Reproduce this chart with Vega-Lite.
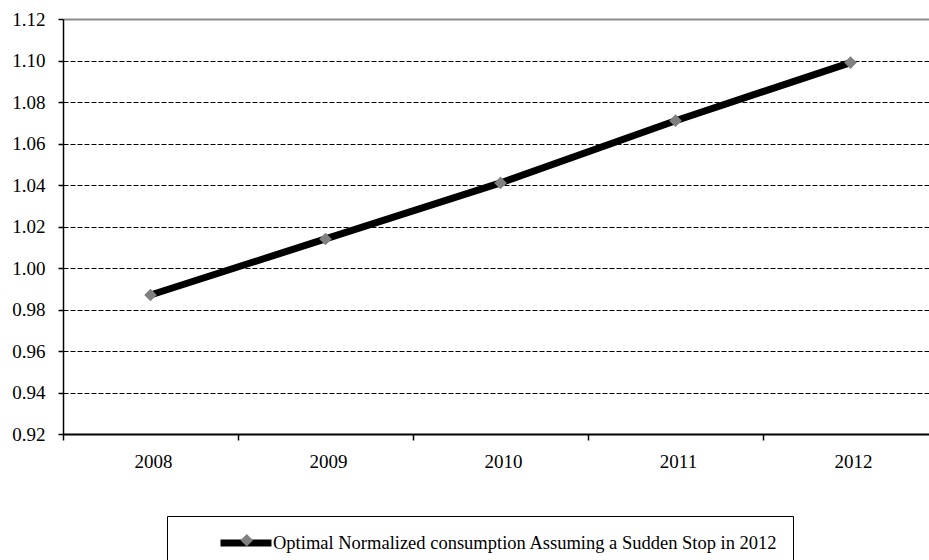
{
  "$schema": "https://vega.github.io/schema/vega-lite/v6.json",
  "width": 866,
  "height": 415,
  "autosize": {"type": "none"},
  "padding": {"left": 63, "top": 19, "right": 0, "bottom": 126},
  "background": "white",
  "config": {"view": {"stroke": null}, "font": "Liberation Serif"},
  "data": {
    "values": [
      {"year": "2008", "value": 0.987, "series": "Optimal Normalized consumption Assuming a Sudden Stop in 2012", "marker": "marker"},
      {"year": "2009", "value": 1.014, "series": "Optimal Normalized consumption Assuming a Sudden Stop in 2012", "marker": "marker"},
      {"year": "2010", "value": 1.041, "series": "Optimal Normalized consumption Assuming a Sudden Stop in 2012", "marker": "marker"},
      {"year": "2011", "value": 1.071, "series": "Optimal Normalized consumption Assuming a Sudden Stop in 2012", "marker": "marker"},
      {"year": "2012", "value": 1.099, "series": "Optimal Normalized consumption Assuming a Sudden Stop in 2012", "marker": "marker"}
    ]
  },
  "encoding": {
    "x": {
      "field": "year",
      "type": "ordinal",
      "scale": {"type": "band", "paddingInner": 0, "paddingOuter": 0, "range": [0, 875]},
      "axis": {
        "title": null,
        "bandPosition": 0,
        "labelOffset": 3,
        "labelAngle": 0,
        "labelAlign": "center",
        "tickSize": 6,
        "tickColor": "black",
        "tickWidth": 1.5,
        "domainColor": "black",
        "domainWidth": 2,
        "labelFontSize": 19,
        "labelFont": "Liberation Serif",
        "labelColor": "black",
        "labelPadding": 12,
        "grid": false,
        "zindex": 2
      }
    },
    "y": {
      "field": "value",
      "type": "quantitative",
      "scale": {"domain": [0.92, 1.12], "zero": false, "nice": false},
      "axis": {
        "title": null,
        "values": [0.92, 0.94, 0.96, 0.98, 1.0, 1.02, 1.04, 1.06, 1.08, 1.1, 1.12],
        "format": ".2f",
        "grid": true,
        "gridColor": {"condition": {"test": "datum.value > 1.119", "value": "#8c8c8c"}, "value": "black"},
        "gridDash": {"condition": {"test": "datum.value > 1.119", "value": []}, "value": [5, 2]},
        "gridWidth": {"condition": {"test": "datum.value > 1.119", "value": 2}, "value": 1.2},
        "gridOpacity": {"condition": {"test": "datum.value < 0.921", "value": 0}, "value": 1},
        "domainColor": "black",
        "domainWidth": 1.5,
        "tickColor": "black",
        "tickSize": 5,
        "tickWidth": 1.5,
        "labelFontSize": 19,
        "labelFont": "Liberation Serif",
        "labelColor": "black",
        "labelPadding": 13
      }
    }
  },
  "layer": [
    {
      "mark": {"type": "line", "strokeWidth": 7, "strokeCap": "round"},
      "encoding": {
        "stroke": {
          "field": "series",
          "type": "nominal",
          "scale": {"range": ["black"]},
          "legend": {
            "orient": "none",
            "legendX": 104,
            "legendY": 497,
            "title": null,
            "strokeColor": "black",
            "padding": 15,
            "symbolType": "M-3,0H3",
            "symbolSize": 289,
            "symbolStrokeWidth": 7,
            "symbolStrokeColor": "black",
            "symbolOffset": 52,
            "labelOffset": 15,
            "labelFontSize": 18.5,
            "labelFont": "Liberation Serif",
            "labelColor": "black",
            "labelLimit": 1000
          }
        }
      }
    },
    {
      "mark": {"type": "point", "filled": true, "color": "#808080", "opacity": 1, "size": 160},
      "encoding": {
        "shape": {
          "field": "marker",
          "type": "nominal",
          "scale": {"range": ["diamond"]},
          "legend": {
            "orient": "none",
            "legendX": 159.5,
            "legendY": 497,
            "title": null,
            "padding": 15,
            "symbolType": "diamond",
            "symbolSize": 160,
            "symbolFillColor": "#808080",
            "symbolStrokeWidth": 0,
            "labelExpr": "''",
            "labelFontSize": 18.5,
            "zindex": 5
          }
        }
      }
    }
  ]
}
